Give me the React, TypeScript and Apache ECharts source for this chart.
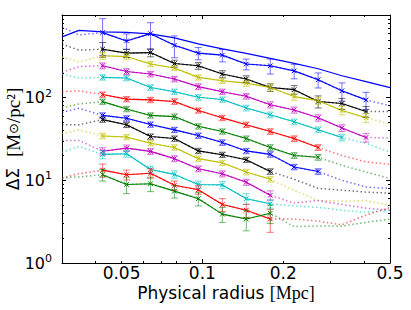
import React, { useEffect, useRef } from "react";
import * as echarts from "echarts";

// Radii (Mpc) of the profile bins
const RADII = [0.03, 0.0347, 0.0425, 0.0522, 0.0641, 0.0787, 0.0966, 0.1187, 0.1457, 0.179, 0.2198, 0.27, 0.331, 0.407, 0.5];

// Model curve (solid blue, no markers)
const MODEL = [543, 651, 624, 616, 590, 528, 447, 389, 344, 299, 260, 224, 184, 156, 132];

// Profiles (full dotted extent) and measured errors over the solid part
const BLUE1 = [717, 574, 612, 486, 595, 431, 346, 327, 255, 243, 211, 165, 121, 94, 80];
const BLUE1_ERR = [290, 104, 212, 127, 59, 56, 38, 50, 42, 34, 30, 22];
const BLACK1 = [444, 376, 386, 346, 351, 259, 243, 193, 168, 133, 125, 90, 85, 68, 68];
const BLACK1_ERR = [79, 40, 39, 25, 23, 19, 16, 14, 15, 15, 13, 10];
const YELLOW1 = [312, 271, 321, 314, 255, 228, 176, 160, 150, 133, 103, 92, 70, 57, 48];
const YELLOW1_ERR = [31, 27, 18, 16, 13, 12, 13, 13, 10, 9, 8, 7];
const MAGENTA1 = [202, 238, 243, 207, 193, 168, 136, 118, 104, 82, 71, 57, 43, 33, 32.5];
const MAGENTA1_ERR = [20, 17, 15, 13, 11, 9, 8, 7, 6, 5, 4, 4];
const CYAN1 = [193, 173, 176, 173, 133, 118, 101, 95, 75, 62, 51, 41, 33, 28, 22];
const CYAN1_ERR = [13, 13, 10, 9, 8, 7, 6, 5, 4, 3.3, 3];
const RED1 = [118, 121, 109, 96, 94, 90, 70, 57, 47, 39, 32, 25, 20, 16.7, 15.6];
const RED1_ERR = [8, 7, 7, 7, 5, 4.3, 3.5, 3, 2.5, 2];
const GREEN1 = [75, 84, 89.5, 73, 61, 59, 45, 39, 32, 25, 20, 19, 15.2, 12.6, 10.5];
const GREEN1_ERR = [6.5, 5.5, 4.5, 4.5, 3.3, 2.9, 2.4, 2, 1.6, 1.5];
const BLUE2 = [66.5, 74.3, 61, 56.3, 47.3, 40.8, 34.8, 28.7, 22.7, 20.6, 14.5, 12.8, 10, 8.3, 8.0];
const BLUE2_ERR = [4.6, 4.2, 3.5, 3, 2.6, 2.2, 1.7, 1.6, 1.1, 1.0];
const BLACK2 = [47, 47, 54.3, 47, 33.9, 32, 22.7, 20.4, 17.7, 12.8, 10.3, 8.0, 7.6, 7.2, 7.0];
const BLACK2_ERR = [4, 3.5, 2.5, 2.4, 1.7, 1.5, 1.3, 1.0];
const YELLOW2 = [36.5, 40.8, 34.4, 33.4, 28.1, 25, 18.3, 16.3, 12.6, 10.3, 7.6, 5.7, 5.6, 5.7, 5.0];
const YELLOW2_ERR = [2.7, 2.5, 2.1, 1.9, 1.4, 1.2, 1.0, 0.8];
const MAGENTA2 = [30.3, 30.3, 22.5, 24.5, 22.4, 18.3, 13.8, 12.0, 9.5, 6.6, 5.3, 5.7, 5.1, 4.6, 4.35];
const MAGENTA2_ERR = [2.3, 2.2, 1.8, 1.5, 1.1, 1.0, 0.8, 0.85];
const CYAN2 = [21.9, 25.7, 20.6, 21.0, 13.5, 11.8, 8.9, 8.8, 6.0, 5.2, 4.9, 4.7, 4.35, 4.1, 4.35];
const CYAN2_ERR = [2.4, 2.0, 1.3, 1.2, 0.9, 0.9, 0.9, 0.6];
const RED2 = [10.7, 12.0, 13.3, 11.7, 12.2, 8.7, 7.7, 5.1, 4.35, 3.4, 3.4, 3.2, 2.9, 3.8, 4.7];
const RED2_ERR = [2.4, 1.6, 1.6, 1.1, 0.9, 0.9, 0.8, 1.05];
const GREEN2 = [10.7, 11.0, 11.7, 8.9, 9.1, 7.4, 6.0, 3.9, 3.4, 4.0, 2.75, 2.8, 2.8, 3.1, 3.4];
const GREEN2_ERR = [1.9, 2.0, 1.8, 1.3, 1.1, 0.8, 0.95, 1.0];

const SOLID_FROM = 2;

// Colours
const C_BLUE = "#0000ff";
const C_BLACK = "#000000";
const C_YELLOW = "#bfbf00";
const C_MAGENTA = "#bf00bf";
const C_CYAN = "#00bfbf";
const C_RED = "#ff0000";
const C_GREEN = "#008000";

// Axes
const X_MIN = 0.03;
const X_MAX = 0.5;
const Y_MIN = 1;
const Y_MAX = 1000;
const X_TICKS = [0.05, 0.1, 0.2, 0.5];
const X_TICK_LABELS = ["0.05", "0.1", "0.2", "0.5"];
const X_MAJOR = [0.1];
const X_MINOR = [0.03, 0.04, 0.05, 0.06, 0.07, 0.08, 0.09, 0.2, 0.3, 0.4];
const Y_TICKS = [1, 10, 100];
const Y_TICK_EXP = ["0", "1", "2"];
const Y_MAJOR = [1, 10, 100];
const Y_MINOR = [2, 3, 4, 5, 6, 7, 8, 9, 20, 30, 40, 50, 60, 70, 80, 90, 200, 300, 400, 500, 600, 700, 800, 900];

const SERIES = [
  { color: C_BLUE, values: BLUE1, err: BLUE1_ERR },
  { color: C_BLACK, values: BLACK1, err: BLACK1_ERR },
  { color: C_YELLOW, values: YELLOW1, err: YELLOW1_ERR },
  { color: C_MAGENTA, values: MAGENTA1, err: MAGENTA1_ERR },
  { color: C_CYAN, values: CYAN1, err: CYAN1_ERR },
  { color: C_RED, values: RED1, err: RED1_ERR },
  { color: C_GREEN, values: GREEN1, err: GREEN1_ERR },
  { color: C_BLUE, values: BLUE2, err: BLUE2_ERR },
  { color: C_BLACK, values: BLACK2, err: BLACK2_ERR },
  { color: C_YELLOW, values: YELLOW2, err: YELLOW2_ERR },
  { color: C_MAGENTA, values: MAGENTA2, err: MAGENTA2_ERR },
  { color: C_CYAN, values: CYAN2, err: CYAN2_ERR },
  { color: C_RED, values: RED2, err: RED2_ERR },
  { color: C_GREEN, values: GREEN2, err: GREEN2_ERR },
];

const lg = Math.log10;
const SANS = "DejaVu Sans";
const SERIF = "Liberation Serif";

function buildOption() {
  const xmin = lg(X_MIN), xmax = lg(X_MAX), ymin = lg(Y_MIN), ymax = lg(Y_MAX);
  const baseX = (extra: any) => ({
    type: "value", min: xmin, max: xmax, splitLine: { show: false },
    axisLine: { show: false, onZero: false, lineStyle: { color: "#000", width: 1 } },
    axisLabel: { show: false }, ...extra,
  });
  const baseY = (extra: any) => ({
    type: "value", min: ymin, max: ymax, splitLine: { show: false },
    axisLine: { show: false, onZero: false, lineStyle: { color: "#000", width: 1 } },
    axisLabel: { show: false }, ...extra,
  });
  const tick = (vals: number[], len: number) => ({
    show: true, inside: true, length: len, customValues: vals.map(lg),
    lineStyle: { color: "#000", width: 1 },
  });

  const xAxis = [
    baseX({
      position: "bottom",
      axisLine: { show: true, onZero: false, lineStyle: { color: "#000", width: 1 } },
      axisTick: tick(X_MAJOR, 4),
      axisLabel: {
        show: true, customValues: X_TICKS.map(lg), margin: 2, color: "#000",
        fontSize: 17, lineHeight: 15, fontFamily: SANS,
        formatter: (v: number) => {
          const i = X_TICKS.findIndex((t) => Math.abs(lg(t) - v) < 1e-6);
          return i >= 0 ? X_TICK_LABELS[i] : "";
        },
      },
      name: "{a|Physical radius }{b|[Mpc]}",
      nameLocation: "middle", nameGap: 22, nameMoveOverlap: false,
      nameTextStyle: {
        color: "#000",
        rich: {
          a: { fontSize: 17, fontFamily: SANS, color: "#000", lineHeight: 16 },
          b: { fontSize: 18, fontFamily: SERIF, color: "#000", lineHeight: 16 },
        },
      },
    }),
    baseX({ position: "bottom", axisTick: tick(X_MINOR, 2) }),
    baseX({ position: "top", axisLine: { show: true, onZero: false, lineStyle: { color: "#000", width: 1 } }, axisTick: tick(X_MAJOR, 4) }),
    baseX({ position: "top", axisTick: tick(X_MINOR, 2) }),
  ];

  const yAxis = [
    baseY({
      position: "left",
      axisLine: { show: true, onZero: false, lineStyle: { color: "#000", width: 1 } },
      axisTick: tick(Y_MAJOR, 4),
      axisLabel: {
        show: true, customValues: Y_TICKS.map(lg), margin: 10, color: "#000",
        formatter: (v: number) => {
          const i = Y_TICKS.findIndex((t) => Math.abs(lg(t) - v) < 1e-6);
          return i >= 0 ? `{b|10}{s|${Y_TICK_EXP[i]}}` : "";
        },
        rich: {
          b: { fontSize: 16, fontFamily: SANS, color: "#000" },
          s: { fontSize: 11, fontFamily: SANS, color: "#000", padding: [0, 0, 9, 0] },
        },
      },
      name: "{a|ΔΣ  }{b|[M}{c|⊙}{b|/pc²]}",
      nameLocation: "middle", nameGap: 39, nameRotate: 90, nameMoveOverlap: false,
      nameTextStyle: {
        color: "#000",
        rich: {
          a: { fontSize: 17, fontFamily: SANS, color: "#000", lineHeight: 20 },
          b: { fontSize: 19, fontFamily: SERIF, color: "#000", lineHeight: 20 },
          c: { fontSize: 13, fontFamily: SANS, color: "#000", lineHeight: 20 },
        },
      },
    }),
    baseY({ position: "left", axisTick: tick(Y_MINOR, 2) }),
    baseY({ position: "right", axisLine: { show: true, onZero: false, lineStyle: { color: "#000", width: 1 } }, axisTick: tick(Y_MAJOR, 4) }),
    baseY({ position: "right", axisTick: tick(Y_MINOR, 2) }),
  ];

  const series: any[] = [];
  // dotted full extents
  SERIES.forEach((s) => {
    series.push({
      type: "line", xAxisIndex: 0, yAxisIndex: 0, z: 1, silent: true,
      symbol: "none", clip: true,
      data: s.values.map((v, j) => [lg(RADII[j]), lg(v)]),
      lineStyle: { color: s.color, width: 1.5, type: [1.5, 2.5], opacity: 0.55 },
    });
  });
  // solid measured parts
  SERIES.forEach((s) => {
    const to = SOLID_FROM + s.err.length;
    series.push({
      type: "line", xAxisIndex: 0, yAxisIndex: 0, z: 2, silent: true,
      symbol: "none", clip: true,
      data: s.values.slice(SOLID_FROM, to).map((v, j) => [lg(RADII[SOLID_FROM + j]), lg(v)]),
      lineStyle: { color: s.color, width: 1.1 },
    });
  });
  // model
  series.push({
    type: "line", xAxisIndex: 0, yAxisIndex: 0, z: 3, silent: true,
    symbol: "none", clip: true,
    data: MODEL.map((v, j) => [lg(RADII[j]), lg(v)]),
    lineStyle: { color: C_BLUE, width: 1.2 },
  });
  // error bars + x markers
  SERIES.forEach((s) => {
    const data = s.err.map((e, j) => {
      const k = SOLID_FROM + j;
      const v = s.values[k];
      return [lg(RADII[k]), lg(v), lg(Math.max(v - e, 1e-3)), lg(v + e)];
    });
    series.push({
      type: "custom", xAxisIndex: 0, yAxisIndex: 0, z: 4, silent: true, clip: true,
      encode: { x: 0, y: 1 },
      data,
      renderItem: (params: any, api: any) => {
        const p = api.coord([api.value(0), api.value(1)]);
        const lo = api.coord([api.value(0), api.value(2)]);
        const hi = api.coord([api.value(0), api.value(3)]);
        const cap = 3.5, m = 2.3;
        const eb = { stroke: s.color, lineWidth: 1, opacity: 0.55 };
        const mk = { stroke: s.color, lineWidth: 1 };
        return {
          type: "group",
          children: [
            { type: "line", shape: { x1: p[0], y1: lo[1], x2: p[0], y2: hi[1] }, style: eb },
            { type: "line", shape: { x1: p[0] - cap, y1: lo[1], x2: p[0] + cap, y2: lo[1] }, style: eb },
            { type: "line", shape: { x1: p[0] - cap, y1: hi[1], x2: p[0] + cap, y2: hi[1] }, style: eb },
            { type: "line", shape: { x1: p[0] - m, y1: p[1] - m, x2: p[0] + m, y2: p[1] + m }, style: mk },
            { type: "line", shape: { x1: p[0] - m, y1: p[1] + m, x2: p[0] + m, y2: p[1] - m }, style: mk },
          ],
        };
      },
    });
  });

  return {
    animation: false,
    backgroundColor: "#ffffff",
    grid: { left: 62, right: 21, top: 15, bottom: 47, containLabel: false, outerBoundsMode: "none" },
    xAxis,
    yAxis,
    series,
  };
}

export default function App() {
  const ref = useRef<HTMLDivElement>(null);
  useEffect(() => {
    document.body.style.margin = "0";
    const chart = echarts.init(ref.current!, undefined, { renderer: "svg" });
    chart.setOption(buildOption() as any);
    return () => chart.dispose();
  }, []);
  return <div ref={ref} style={{ position: "fixed", left: 0, top: 0, width: 411, height: 310, background: "#fff" }} />;
}
